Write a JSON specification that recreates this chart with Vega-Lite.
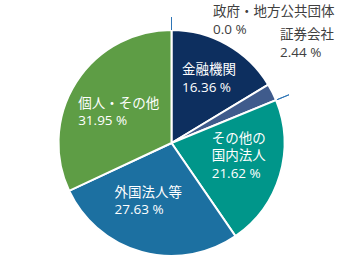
{
  "$schema": "https://vega.github.io/schema/vega-lite/v6.json",
  "width": 343,
  "height": 228,
  "autosize": "none",
  "padding": {"top": 29, "left": 0, "right": 0, "bottom": 0},
  "background": "white",
  "config": {"view": {"stroke": null}, "text": {"font": "Open Sans, Noto Sans CJK JP"}},
  "data": {"values": [
    {"cat": "政府・地方公共団体", "value": 0.0, "o": 1, "label": "政府・地方公共団体\n0.0 %"},
    {"cat": "金融機関", "value": 16.36, "o": 2, "label": "金融機関\n16.36 %"},
    {"cat": "証券会社", "value": 2.44, "o": 3, "label": "証券会社\n2.44 %"},
    {"cat": "その他の国内法人", "value": 21.62, "o": 4, "label": "その他の\n国内法人\n21.62 %"},
    {"cat": "外国法人等", "value": 27.63, "o": 5, "label": "外国法人等\n27.63 %"},
    {"cat": "個人・その他", "value": 31.95, "o": 6, "label": "個人・その他\n31.95 %"}
  ]},
  "encoding": {
    "theta": {"field": "value", "type": "quantitative", "stack": true},
    "order": {"field": "o", "type": "quantitative"}
  },
  "layer": [
    {
      "mark": {"type": "arc", "outerRadius": 113, "stroke": "white", "strokeWidth": 2},
      "encoding": {
        "color": {
          "field": "cat", "type": "nominal", "legend": null,
          "scale": {
            "domain": ["政府・地方公共団体", "金融機関", "証券会社", "その他の国内法人", "外国法人等", "個人・その他"],
            "range": ["#1f4e79", "#0d2f5f", "#3f5b8c", "#00968a", "#1c70a1", "#5e9d45"]
          }
        }
      }
    },
    {
      "transform": [
        {"stack": "value", "groupby": [], "sort": [{"field": "o"}], "as": ["s0", "s1"]},
        {"filter": "datum.cat === '政府・地方公共団体'"}
      ],
      "mark": {"type": "arc", "outerRadius": 126, "innerRadius": 113, "filled": false, "stroke": "#2e75b6", "strokeWidth": 1},
      "encoding": {
        "theta": {"field": "s0", "type": "quantitative"},
        "theta2": {"field": "s1"}
      }
    },
    {
      "transform": [
        {"stack": "value", "groupby": [], "sort": [{"field": "o"}], "as": ["s0", "s1"]},
        {"filter": "datum.cat === '証券会社'"}
      ],
      "mark": {"type": "arc", "outerRadius": 127, "innerRadius": 114, "filled": false, "stroke": "#2e75b6", "strokeWidth": 1},
      "encoding": {
        "theta": {"field": "s1", "type": "quantitative"},
        "theta2": {"field": "s1"}
      }
    },
    {
      "mark": {"type": "text", "radius": 124, "align": "left", "baseline": "middle", "dx": 41.5, "dy": -7.5, "lineBreak": "\n", "lineHeight": 18, "fontSize": 13.5, "fill": "#404040"},
      "encoding": {"text": {"condition": {"test": "datum.cat === '政府・地方公共団体'", "field": "label", "type": "nominal"}, "value": ""}}
    },
    {
      "mark": {"type": "text", "radius": 130, "align": "left", "baseline": "middle", "dx": -7.6, "dy": -49.5, "lineBreak": "\n", "lineHeight": 18, "fontSize": 13.5, "fill": "#404040"},
      "encoding": {"text": {"condition": {"test": "datum.cat === '証券会社'", "field": "label", "type": "nominal"}, "value": ""}}
    },
    {
      "mark": {"type": "text", "radius": 68, "align": "left", "baseline": "middle", "dx": -23, "dy": -14, "lineBreak": "\n", "lineHeight": 18, "fontSize": 13.5, "fill": "white"},
      "encoding": {"text": {"condition": {"test": "datum.cat === '金融機関'", "field": "label", "type": "nominal"}, "value": ""}}
    },
    {
      "mark": {"type": "text", "radius": 68, "align": "left", "baseline": "middle", "dx": -25, "dy": -23.5, "lineBreak": "\n", "lineHeight": 17.5, "fontSize": 13.5, "fill": "white"},
      "encoding": {"text": {"condition": {"test": "datum.cat === 'その他の国内法人'", "field": "label", "type": "nominal"}, "value": ""}}
    },
    {
      "mark": {"type": "text", "radius": 68, "align": "left", "baseline": "middle", "dx": -39, "dy": -15.5, "lineBreak": "\n", "lineHeight": 17, "fontSize": 13.5, "fill": "white"},
      "encoding": {"text": {"condition": {"test": "datum.cat === '外国法人等'", "field": "label", "type": "nominal"}, "value": ""}}
    },
    {
      "mark": {"type": "text", "radius": 68, "align": "left", "baseline": "middle", "dx": -36, "dy": -2.5, "lineBreak": "\n", "lineHeight": 17, "fontSize": 13.5, "fill": "white"},
      "encoding": {"text": {"condition": {"test": "datum.cat === '個人・その他'", "field": "label", "type": "nominal"}, "value": ""}}
    }
  ]
}
